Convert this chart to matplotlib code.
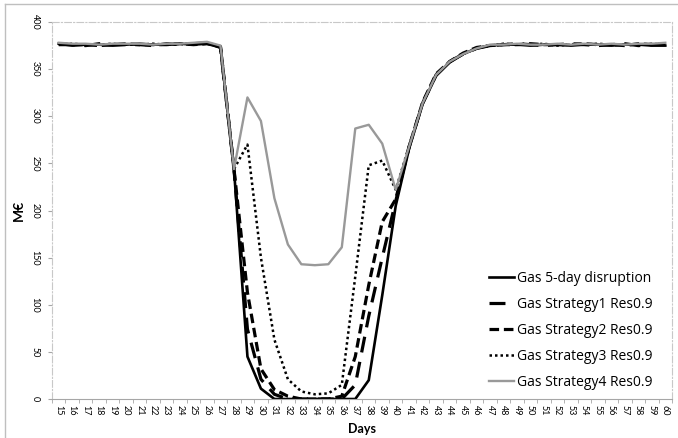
import matplotlib
matplotlib.use("Agg")
import matplotlib.pyplot as plt
import numpy as np
from matplotlib.lines import Line2D

plt.rcParams['font.family'] = ['Lato', 'DejaVu Sans']

days = list(range(15, 61))

# M€ per day
gas_5day = [377, 375, 376, 376, 375, 376, 377, 376, 376, 377, 376, 377, 373,
            244, 45, 11, 0, 0, 0, 0, 0, 0, 0, 20, 110, 205,
            266, 313, 343, 357, 366, 372, 375, 376, 376, 375, 376, 376, 375,
            376, 376, 375, 376, 376, 375, 375]
strategy1 = [376, 376, 375, 377, 376, 376, 376, 375, 377, 376, 377, 378, 373,
             244, 74, 21, 5, 0, 0, 0, 0, 0, 15, 88, 150, 210,
             268, 314, 344, 358, 366, 372, 375, 376, 377, 376, 375, 376, 377,
             376, 375, 376, 377, 375, 376, 376]
strategy2 = [377, 376, 376, 375, 376, 377, 376, 376, 376, 377, 376, 377, 374,
             244, 113, 32, 10, 3, 0, 0, 0, 3, 45, 121, 188, 212,
             268, 315, 345, 358, 367, 373, 375, 376, 376, 377, 376, 376, 376,
             377, 376, 376, 375, 377, 376, 377]
strategy3 = [376, 377, 376, 376, 377, 376, 376, 377, 376, 377, 377, 378, 374,
             244, 270, 150, 63, 21, 8, 5, 6, 15, 130, 248, 253, 222,
             269, 314, 344, 358, 366, 372, 375, 377, 376, 376, 377, 375, 376,
             376, 377, 376, 376, 376, 377, 376]
strategy4 = [378, 377, 377, 376, 377, 377, 377, 376, 377, 377, 378, 379, 375,
             244, 320, 295, 213, 164, 143, 142, 143, 161, 287, 291, 271, 222,
             268, 314, 344, 358, 366, 372, 376, 376, 377, 376, 376, 377, 376,
             377, 376, 377, 376, 377, 377, 378]

y_ticks = [0, 50, 100, 150, 200, 250, 300, 350, 400]

fig = plt.figure(figsize=(6.78, 4.38), dpi=100)
ax = fig.add_axes([0.0767, 0.089, 0.9145, 0.8607])

# outer chart border
fig.add_artist(Line2D([5 / 678, 5 / 678], [0, 1 - 4 / 438], color="#bfbfbf", lw=1))
fig.add_artist(Line2D([5 / 678, 1], [1 - 4 / 438, 1 - 4 / 438], color="#bfbfbf", lw=1))

ax.plot(days, gas_5day, color="black", lw=1.9, label="Gas 5-day disruption")
ax.plot(days, strategy1, color="black", lw=2.3, dashes=(5, 3),
        label="Gas Strategy1 Res0.9")
ax.plot(days, strategy2, color="black", lw=2.3, dashes=(3, 1.5),
        label="Gas Strategy2 Res0.9")
ax.plot(days, strategy3, color="black", lw=1.8, dashes=(1, 1.2),
        label="Gas Strategy3 Res0.9")
ax.plot(days, strategy4, color="#999999", lw=1.7, label="Gas Strategy4 Res0.9")

ax.set_xlim(14.5, 60.5)
ax.set_ylim(0, 400)

ax.set_xticks(days)
ax.set_xticklabels([str(d) for d in days], rotation=-90, fontsize=6.5)
ax.set_xticks(np.arange(14.5, 61, 1), minor=True)
ax.tick_params(axis="x", which="major", length=0, pad=4)
ax.tick_params(axis="x", which="minor", length=3, color="#a6a6a6")
ax.set_yticks(y_ticks)
ax.set_yticklabels([str(v) for v in y_ticks], rotation=-90, fontsize=6.5,
                   va="center")
ax.tick_params(axis="y", length=3, color="#a6a6a6", pad=6)

for side in ("top", "right", "left"):
    ax.spines[side].set_color("#c8c8c8")
    ax.spines[side].set_linestyle((0, (6, 2, 1, 2)))
ax.spines["bottom"].set_color("#a6a6a6")

ax.set_xlabel("Days", fontsize=9, fontweight="bold", labelpad=6)
ax.set_ylabel("M€", fontsize=10, fontweight="bold", labelpad=4)

leg = ax.legend(loc="lower right", bbox_to_anchor=(0.977, 0.01), frameon=False,
                prop={"family": ["Open Sans", "DejaVu Sans"], "size": 10},
                handlelength=1.8, handletextpad=0.2,
                labelspacing=0.78, borderaxespad=0.0)

fig.savefig("out.png", dpi=100)
